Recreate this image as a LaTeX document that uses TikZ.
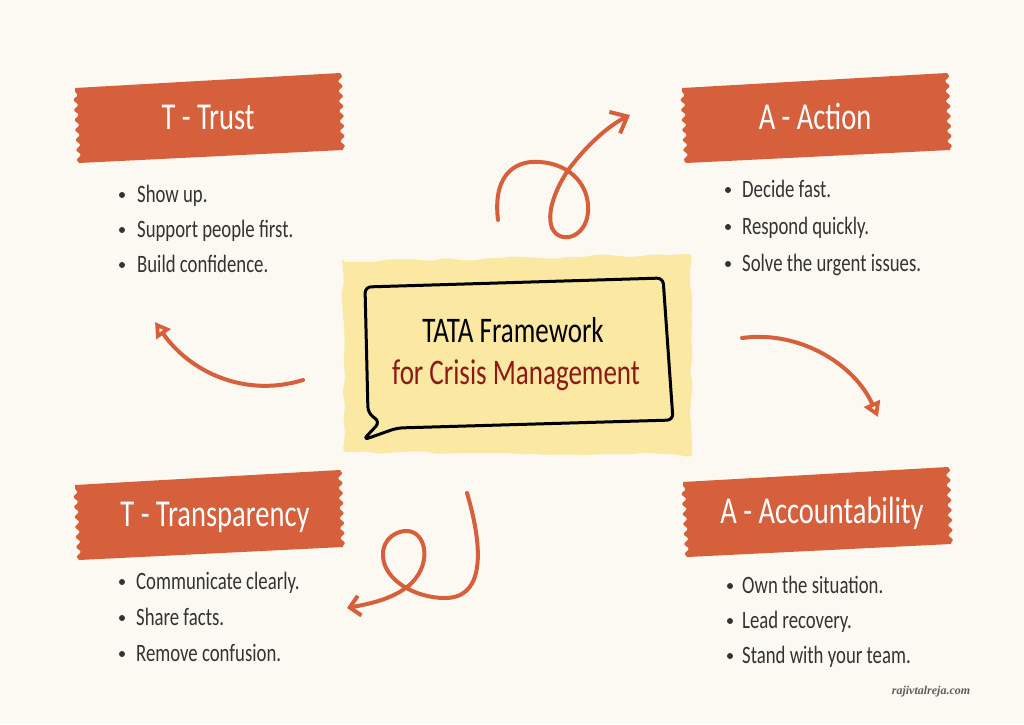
\documentclass[tikz,border=0pt]{standalone}
\usepackage{fontspec}
\setmainfont{Carlito}
\newfontfamily\handfont[FakeStretch=0.75]{Carlito}
\newfontfamily\markfont{Liberation Serif}
\usetikzlibrary{arrows.meta,decorations.pathmorphing}
\definecolor{paper}{HTML}{FCF9F2}
\definecolor{tapered}{HTML}{D65F3C}
\definecolor{cardyellow}{HTML}{FBE8A2}
\definecolor{inkgray}{HTML}{333333}
\definecolor{darkred}{HTML}{8C1A12}

\begin{document}
\begin{tikzpicture}[x=1pt, y=-1pt, every node/.style={inner sep=0pt},
		title/.style={font=\handfont\fontsize{38}{40}\selectfont, text=white, anchor=base},
		headline/.style={font=\handfont\fontsize{36}{38}\selectfont, text=black, anchor=base},
		item/.style={font=\handfont\fontsize{25}{28}\selectfont, text=inkgray, anchor=base west},
		swirl/.style={draw=tapered, line width=4pt, line cap=round, line join=round},
		tape/.pic={
			\fill[tapered, decoration={snake, amplitude=2pt, segment length=10pt}]
				(0,15) -- (265,0) decorate {-- (268,77)} -- (4,90) decorate {-- (0,15)} -- cycle;
		}]
				\fill[paper] (0,0) rectangle (1024,724);
				\useasboundingbox (0,0) rectangle (1024,724);

				% banners
				\pic at (75,73) {tape};
				\pic at (682,73) {tape};
				\pic at (75,470) {tape};
				\pic at (683,467) {tape};
				\node[title] (trust) at (208,129) {T - Trust};
				\node[title] (action) at (815,129) {A - Action};
				\node[title] (transp) at (215,526) {T - Transparency};
				\node[title] (account) at (822,523) {A - Accountability};

				% bullet lists
				\foreach \txt [count=\i] in {Show up., Support people first., Build confidence.}{
					\fill[inkgray] (122,160+35*\i) circle (3pt);
					\node[item] (trust-\i) at (137,167+35*\i) {\txt};
				}
				\foreach \txt [count=\i] in {Decide fast., Respond quickly., Solve the urgent issues.}{
					\fill[inkgray] (728,153+37*\i) circle (3pt);
					\node[item] (action-\i) at (742,160+37*\i) {\txt};
				}
				\foreach \txt [count=\i] in {Communicate clearly., Share facts., Remove confusion.}{
					\fill[inkgray] (122,546+36*\i) circle (3pt);
					\node[item] (transp-\i) at (136,553+36*\i) {\txt};
				}
				\foreach \txt [count=\i] in {Own the situation., Lead recovery., Stand with your team.}{
					\fill[inkgray] (730,551+35*\i) circle (3pt);
					\node[item] (account-\i) at (742,558+35*\i) {\txt};
				}

				% centre card
				\fill[cardyellow, rounded corners=4pt, decorate, decoration={random steps, segment length=14pt, amplitude=2pt}]
					(342,262) -- (690,254) -- (692,455) -- (345,452) -- cycle;
				\draw[line width=3pt, rounded corners=6pt, line join=round]
					(365,287) -- (663,278) -- (673,420) -- (397,428) -- (363,440) -- (380,422) -- (368,413) -- cycle;
				\node[headline] (tata) at (513,342) {TATA Framework};
				\node[headline, text=darkred] (crisis) at (516,384) {for Crisis Management};

				% arrows
				\coordinate (up0) at (498,220); \coordinate (up1) at (630,115);
				\coordinate (rt0) at (742,338); \coordinate (rt1) at (878,417);
				\coordinate (lf0) at (303,380); \coordinate (lf1) at (155,322);
				\coordinate (dn0) at (467,493); \coordinate (dn1) at (347,608);
				\draw[swirl, -{Straight Barb[length=14pt, width=24pt]}] (up0)
					.. controls (492,170) and (520,160) .. (540,162)
					.. controls (570,164) and (590,185) .. (588,212)
					.. controls (586,238) and (560,245) .. (552,228)
					.. controls (545,210) and (560,180) .. (572,165)
					.. controls (590,142) and (610,125) .. (up1);
				\draw[swirl, -{Triangle[open, length=15pt, width=17pt]}] (rt0)
					.. controls (800,330) and (855,365) .. (rt1);
				\draw[swirl, -{Triangle[open, length=15pt, width=17pt]}] (lf0)
					.. controls (245,398) and (190,372) .. (lf1);
				\draw[swirl, -{Straight Barb[length=10pt, width=20pt]}] (dn0)
					.. controls (478,530) and (492,598) .. (445,598)
					.. controls (415,598) and (384,580) .. (383,556)
					.. controls (382,538) and (398,530) .. (408,531)
					.. controls (428,533) and (432,568) .. (407,587)
					.. controls (390,600) and (368,604) .. (dn1);

				\node[font=\markfont\bfseries\itshape\fontsize{12}{14}\selectfont, text=inkgray!80] (site) at (931,692) {rajivtalreja.com};
			\end{tikzpicture}
\end{document}
